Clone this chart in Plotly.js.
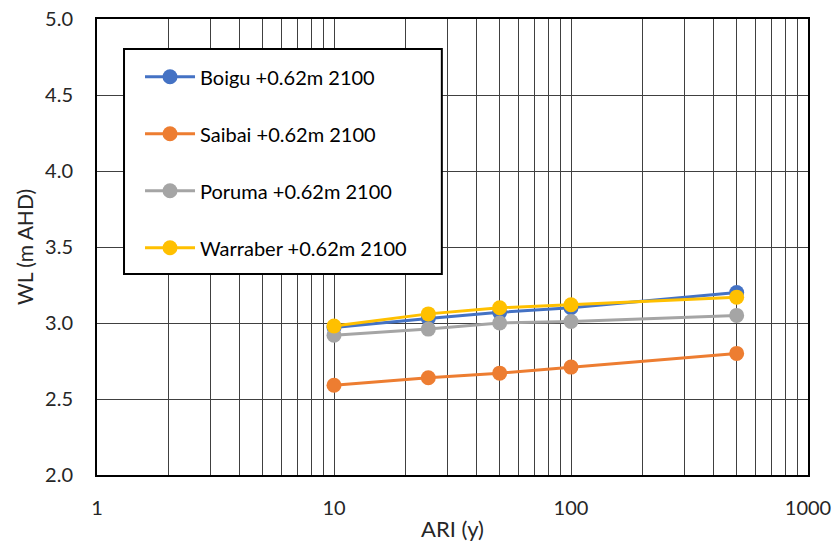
<!DOCTYPE html>
<html><head><meta charset="utf-8">
<script src="https://cdn.plot.ly/plotly-3.0.1.min.js"></script>
<style>html,body{margin:0;padding:0;background:#fff}</style>
</head><body><div id="chart" style="width:838px;height:543px"></div>
<script>
const ari = [10, 25, 50, 100, 500];
const boigu = [2.97, 3.03, 3.07, 3.10, 3.20];
const saibai = [2.59, 2.64, 2.67, 2.71, 2.80];
const poruma = [2.92, 2.96, 3.00, 3.01, 3.05];
const warraber = [2.98, 3.06, 3.10, 3.12, 3.17];
const seriesNames = ['Boigu +0.62m 2100', 'Saibai +0.62m 2100', 'Poruma +0.62m 2100', 'Warraber +0.62m 2100'];
const colors = ['#4472C4', '#ED7D31', '#A5A5A5', '#FFC000'];
const xTickVals = [1, 10, 100, 1000];
const xTickText = ['1', '10', '100', '1000'];
const yTickVals = [2.0, 2.5, 3.0, 3.5, 4.0, 4.5, 5.0];

const font = 'Lato, "Liberation Sans", sans-serif';
const data = [boigu, saibai, poruma, warraber].map((ys, i) => ({
  x: ari, y: ys, type: 'scatter', mode: 'lines+markers', name: seriesNames[i],
  legendgroup: 'g' + i,
  line: {color: colors[i], width: 3},
  marker: {color: colors[i], size: 15}
}));

const layout = {
  width: 838, height: 543,
  margin: {l: 97, r: 30, t: 19, b: 68},
  paper_bgcolor: '#fff', plot_bgcolor: '#fff',
  font: {family: font, size: 20, color: '#262626'},
  showlegend: true,
  legend: {
    x: 0.0605, y: 0.916, xanchor: 'left', yanchor: 'top',
    bgcolor: 'rgba(0,0,0,0)', borderwidth: 0,
    font: {family: font, size: 20, color: '#000'},
    tracegroupgap: 28, itemwidth: 50
  },
  shapes: [{
    type: 'rect', xref: 'paper', yref: 'paper',
    x0: 0.038, x1: 0.485, y0: 0.441, y1: 0.934,
    fillcolor: '#fff', line: {color: '#000', width: 2}, layer: 'above'
  }],
  xaxis: {
    type: 'log', range: [0, 3],
    tickmode: 'array', tickvals: xTickVals, ticktext: xTickText,
    showgrid: true, gridcolor: '#404040', gridwidth: 1,
    minor: {dtick: 'D1', showgrid: true, gridcolor: '#404040', gridwidth: 1, ticks: ''},
    showline: true, linecolor: '#000', linewidth: 2, mirror: true,
    ticks: '', ticklabelstandoff: 14,
    title: {text: 'ARI (y)', font: {family: font, size: 22, color: '#262626'}, standoff: 4},
    tickfont: {family: font, size: 20, color: '#262626'},
    zeroline: false
  },
  yaxis: {
    range: [2, 5], tickmode: 'array', tickvals: yTickVals, tickformat: '.1f',
    showgrid: true, gridcolor: '#404040', gridwidth: 1,
    showline: true, linecolor: '#000', linewidth: 2, mirror: true,
    ticks: '', ticklabelstandoff: 18,
    title: {text: 'WL (m AHD)', font: {family: font, size: 21, color: '#262626'}, standoff: 6},
    tickfont: {family: font, size: 20, color: '#262626'},
    zeroline: false
  }
};
Plotly.newPlot('chart', data, layout, {displayModeBar: false, staticPlot: true});
</script></body></html>
